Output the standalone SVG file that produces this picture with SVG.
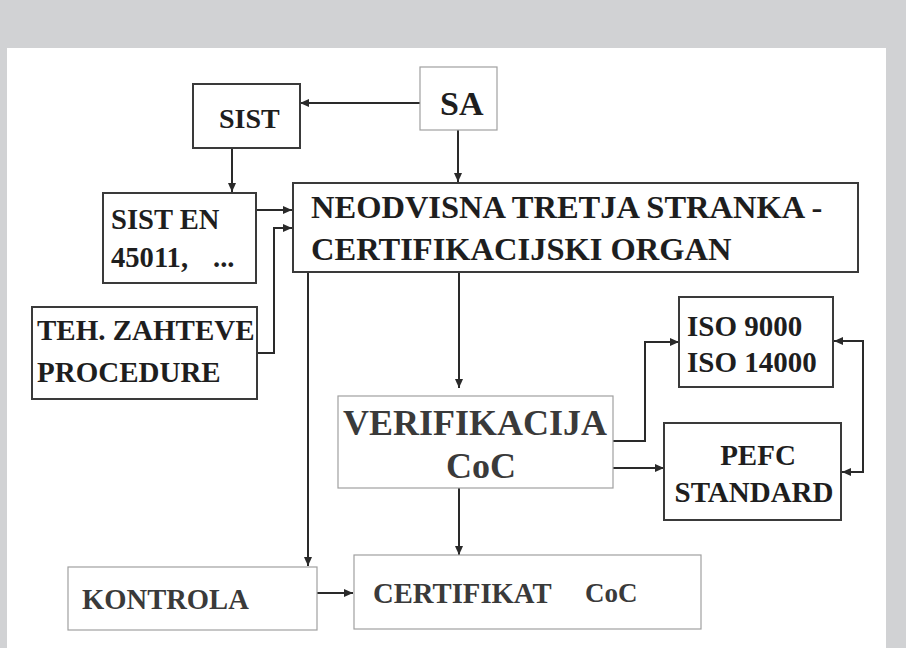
<svg xmlns="http://www.w3.org/2000/svg" width="906" height="648" viewBox="0 0 906 648">
<defs>
<marker id="ah" markerUnits="userSpaceOnUse" markerWidth="10" markerHeight="8" refX="9" refY="4" orient="auto-start-reverse">
<path d="M0,0 L9,4 L0,8 z" fill="#2a2a2a"/>
</marker>
<style>
.dk{fill:#fff;stroke:#3a3a3a;stroke-width:2}
.lt{fill:#fff;stroke:#a0a0a0;stroke-width:1.2}
.t{font-family:'Liberation Serif','DejaVu Serif',serif;font-weight:bold;fill:#1e1e1e}
.g{fill:#3a3a3a}
.c{fill:none;stroke:#2a2a2a;stroke-width:2}
</style>
</defs>
<rect x="0" y="0" width="906" height="648" fill="#d1d2d4"/>
<rect x="7" y="48" width="879" height="600" fill="#ffffff"/>

<g id="connectors">
<path class="c" d="M420,103 H300" marker-end="url(#ah)"/>
<path class="c" d="M458,130 V182" marker-end="url(#ah)"/>
<path class="c" d="M232,148 V192" marker-end="url(#ah)"/>
<path class="c" d="M256,210 H292" marker-end="url(#ah)"/>
<path class="c" d="M257,353 H274 V228 H292" marker-end="url(#ah)"/>
<path class="c" d="M459,272 V388" marker-end="url(#ah)"/>
<path class="c" d="M308,272 V566" marker-end="url(#ah)"/>
<path class="c" d="M613,441 H645 V342 H679" marker-end="url(#ah)"/>
<path class="c" d="M613,468 H664" marker-end="url(#ah)"/>
<path class="c" d="M834,341 H863 V472 H842" marker-start="url(#ah)" marker-end="url(#ah)"/>
<path class="c" d="M459,488 V555" marker-end="url(#ah)"/>
<path class="c" d="M317,593 H353" marker-end="url(#ah)"/>
</g>

<g id="sa">
<rect class="lt" x="420" y="67" width="77" height="63"/>
<text class="t" font-family="Liberation Serif, serif" x="440" y="115" font-size="34">SA</text>
</g>
<g id="sist">
<rect class="dk" x="193" y="84" width="107" height="64"/>
<text class="t" x="219" y="128" font-size="28">SIST</text>
</g>
<g id="sist-en">
<rect class="dk" x="103" y="193" width="153" height="90"/>
<text class="t" x="111" y="229" font-size="28.6">SIST EN</text>
<text class="t" x="111" y="267" font-size="28.6">45011,<tspan x="213">...</tspan></text>
</g>
<g id="teh">
<rect class="dk" x="32" y="307" width="225" height="92"/>
<text class="t" x="37" y="340" font-size="29">TEH. ZAHTEVE</text>
<text class="t" x="37" y="382" font-size="29">PROCEDURE</text>
</g>
<g id="neodvisna">
<rect class="dk" x="293" y="183" width="565" height="89"/>
<text class="t" x="311" y="218" font-size="32.5">NEODVISNA TRETJA STRANKA -</text>
<text class="t" x="311" y="260" font-size="32.5">CERTIFIKACIJSKI ORGAN</text>
</g>
<g id="verifikacija">
<rect class="lt" x="338" y="396" width="275" height="92"/>
<text class="t g" x="475" y="435" font-size="36" text-anchor="middle">VERIFIKACIJA</text>
<text class="t g" x="481" y="478" font-size="36" text-anchor="middle">CoC</text>
</g>
<g id="iso">
<rect class="dk" x="679" y="297" width="154" height="90"/>
<text class="t" x="687" y="336" font-size="29">ISO 9000</text>
<text class="t" x="687" y="372" font-size="29">ISO 14000</text>
</g>
<g id="pefc">
<rect class="dk" x="664" y="423" width="177" height="97"/>
<text class="t" x="758" y="465" font-size="29" text-anchor="middle">PEFC</text>
<text class="t" x="754" y="502" font-size="29" text-anchor="middle">STANDARD</text>
</g>
<g id="kontrola">
<rect class="lt" x="68" y="567" width="249" height="63"/>
<text class="t g" x="82" y="609" font-size="28.6">KONTROLA</text>
</g>
<g id="certifikat">
<rect class="lt" x="354" y="555" width="347" height="74"/>
<text class="t g" x="373" y="603" font-size="28.7">CERTIFIKAT</text>
<text class="t g" x="585" y="602" font-size="27">CoC</text>
</g>
</svg>
